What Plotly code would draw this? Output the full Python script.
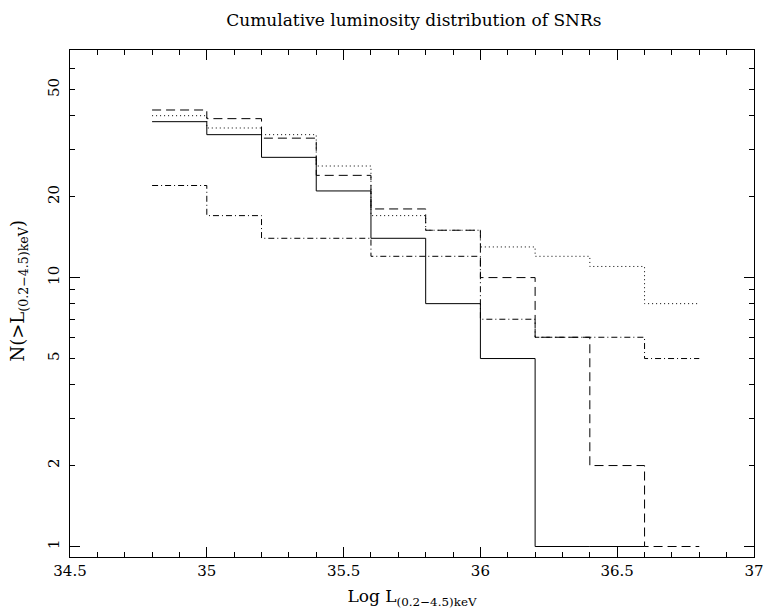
import plotly.graph_objects as go
import math

edges = [34.8, 35.0, 35.2, 35.4, 35.6, 35.8, 36.0, 36.2, 36.4, 36.6, 36.8]
solid_vals = [38, 34, 28, 21, 14, 8, 5, 1, 1]
dashed_vals = [42, 39, 33, 24, 18, 15, 10, 6, 2, 1]
dotted_vals = [40, 36, 34, 26, 17, 15, 13, 12, 11, 8]
dashdot_vals = [22, 17, 14, 14, 12, 12, 7, 6, 6, 5]

x_ticks = [34.5, 35, 35.5, 36, 36.5, 37]
x_ticktext = ["34.5", "35", "35.5", "36", "36.5", "37"]
y_ticks = [1, 2, 5, 10, 20, 50]
y_ticktext = ["1", "2", "5", "10", "20", "50"]
y_minor = [3, 4, 6, 7, 8, 9, 30, 40, 60, 70]
y_decades = [1, 10]

title_text = "Cumulative luminosity distribution of SNRs"
x_title = "Log L<sub>(0.2\u22124.5)keV</sub>"
y_title = "N(>L<sub>(0.2\u22124.5)keV</sub>)"

FONT = "DejaVu Serif"
yrange = [math.log10(0.914), math.log10(70.2)]

def step(vals):
    xs = edges[:len(vals) + 1]
    ys = list(vals) + [vals[-1]]
    return xs, ys

fig = go.Figure()
styles = [
    (solid_vals, "solid"),
    (dashed_vals, "9px,5px"),
    (dotted_vals, "1px,3px"),
    (dashdot_vals, "6px,3px,1px,3px"),
]
for vals, dash in styles:
    xs, ys = step(vals)
    fig.add_trace(go.Scatter(x=xs, y=ys, mode="lines", line_shape="hv",
                             line=dict(color="black", width=1, dash=dash),
                             showlegend=False, hoverinfo="skip"))

# invisible trace on overlay axis for long decade ticks
fig.add_trace(go.Scatter(x=[edges[0]], y=[1], yaxis="y2", mode="markers",
                         marker=dict(opacity=0), showlegend=False, hoverinfo="skip"))

fig.add_annotation(text=y_title, textangle=-90, xref="paper", yref="paper",
                   x=-0.075, y=0.525, xanchor="center", yanchor="middle",
                   showarrow=False, font=dict(family=FONT, size=18, color="black"))

fig.update_layout(
    width=765, height=616,
    margin=dict(l=70, r=11, t=50, b=59, autoexpand=False),
    paper_bgcolor="white", plot_bgcolor="white",
    font=dict(family=FONT, size=15, color="black"),
    title=dict(text=title_text, x=0.541, xanchor="center", y=0.967, yanchor="middle",
               font=dict(family=FONT, size=17, color="black")),
    xaxis=dict(range=[34.5, 37], tickvals=x_ticks, ticktext=x_ticktext,
               ticks="inside", ticklen=10, tickwidth=1, tickcolor="black",
               showline=True, linecolor="black", linewidth=1, mirror="ticks",
               showgrid=False, zeroline=False, automargin=False,
               minor=dict(dtick=0.1, tick0=34.5, ticks="inside", ticklen=5,
                          tickwidth=1, tickcolor="black", showgrid=False),
               title=dict(text=x_title, standoff=11, font=dict(family=FONT, size=17)),
               tickfont=dict(family=FONT, size=15)),
    yaxis=dict(type="log", range=yrange, tickvals=y_ticks, ticktext=y_ticktext,
               ticks="inside", ticklen=5, tickwidth=1, tickcolor="black",
               showline=True, linecolor="black", linewidth=1, mirror="ticks",
               showgrid=False, zeroline=False, tickangle=-90, automargin=False,
               ticklabelstandoff=4,
               minor=dict(tickmode="array", tickvals=y_minor, ticks="inside",
                          ticklen=5, tickwidth=1, tickcolor="black", showgrid=False),
               tickfont=dict(family=FONT, size=15)),
    yaxis2=dict(type="log", range=yrange, overlaying="y", anchor="x", side="left",
                tickvals=y_decades, ticks="inside", ticklen=10, tickwidth=1,
                tickcolor="black", showticklabels=False, showline=False,
                mirror="ticks", showgrid=False, zeroline=False, automargin=False),
)

fig.write_html("out.html")
